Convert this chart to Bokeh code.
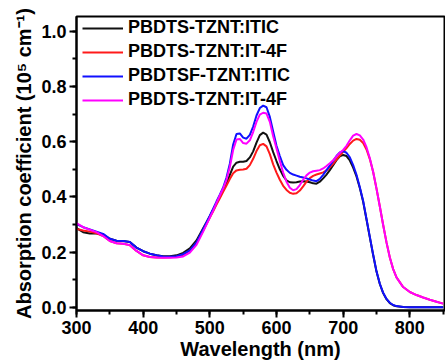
from bokeh.plotting import figure
from bokeh.models import Range1d, SingleIntervalTicker, Legend, LegendItem, CustomJSTickFormatter
from bokeh.embed import file_html
from bokeh.resources import INLINE

wavelength = [300, 310, 320, 330, 340, 350, 360, 370, 380, 390, 400, 410, 420, 430, 440, 450,
              460, 470, 480, 490, 500, 505, 510, 515, 520, 525, 530, 535, 540, 545, 550, 555,
              560, 565, 570, 575, 580, 585, 590, 595, 600, 605, 610, 615, 620, 625, 630, 635,
              640, 645, 650, 655, 660, 665, 670, 675, 680, 685, 690, 695, 700, 705, 710, 715,
              720, 725, 730, 735, 740, 745, 750, 755, 760, 765, 770, 775, 780, 790, 800, 810,
              820, 830, 840, 850]

black_itic = [0.287, 0.272, 0.267, 0.267, 0.263, 0.248, 0.241, 0.240, 0.236, 0.216, 0.203, 0.194,
              0.188, 0.185, 0.185, 0.188, 0.197, 0.213, 0.242, 0.286, 0.330, 0.353, 0.377, 0.400,
              0.424, 0.447, 0.480, 0.510, 0.524, 0.527, 0.527, 0.530, 0.543, 0.565, 0.597, 0.624,
              0.633, 0.626, 0.598, 0.562, 0.530, 0.500, 0.476, 0.460, 0.453, 0.452, 0.453, 0.456,
              0.457, 0.456, 0.453, 0.449, 0.448, 0.455, 0.467, 0.481, 0.497, 0.515, 0.533, 0.547,
              0.552, 0.548, 0.532, 0.506, 0.474, 0.432, 0.382, 0.318, 0.253, 0.189, 0.129, 0.084,
              0.051, 0.029, 0.015, 0.007, 0.003, 0.001, 0.0, 0.0, 0.0, 0.0, 0.0, 0.0]

red_it4f = [0.284, 0.278, 0.274, 0.268, 0.258, 0.240, 0.232, 0.230, 0.225, 0.204, 0.188, 0.182,
            0.180, 0.180, 0.181, 0.183, 0.190, 0.205, 0.233, 0.278, 0.325, 0.348, 0.372, 0.395,
            0.418, 0.441, 0.465, 0.486, 0.496, 0.498, 0.499, 0.502, 0.515, 0.538, 0.566, 0.587,
            0.592, 0.583, 0.555, 0.518, 0.488, 0.462, 0.440, 0.425, 0.415, 0.411, 0.413, 0.423,
            0.438, 0.455, 0.468, 0.476, 0.481, 0.485, 0.489, 0.496, 0.507, 0.520, 0.535, 0.550,
            0.563, 0.577, 0.592, 0.604, 0.610, 0.607, 0.595, 0.572, 0.537, 0.490, 0.430, 0.365,
            0.298, 0.235, 0.180, 0.138, 0.108, 0.073, 0.055, 0.044, 0.035, 0.027, 0.020, 0.013]

blue_sf_itic = [0.301, 0.290, 0.282, 0.274, 0.266, 0.248, 0.241, 0.240, 0.236, 0.216, 0.203, 0.194,
                0.188, 0.184, 0.183, 0.185, 0.192, 0.206, 0.235, 0.283, 0.332, 0.357, 0.383, 0.408,
                0.434, 0.470, 0.520, 0.590, 0.628, 0.630, 0.615, 0.611, 0.625, 0.655, 0.695, 0.722,
                0.731, 0.725, 0.690, 0.637, 0.585, 0.548, 0.515, 0.498, 0.487, 0.481, 0.477, 0.473,
                0.470, 0.467, 0.463, 0.459, 0.457, 0.465, 0.480, 0.497, 0.513, 0.530, 0.548, 0.561,
                0.566, 0.560, 0.543, 0.515, 0.480, 0.435, 0.385, 0.320, 0.255, 0.190, 0.130, 0.085,
                0.052, 0.030, 0.016, 0.008, 0.004, 0.001, 0.0, 0.0, 0.0, 0.0, 0.0, 0.0]

magenta_it4f = [0.305, 0.290, 0.281, 0.272, 0.258, 0.240, 0.232, 0.230, 0.225, 0.204, 0.188, 0.182,
                0.180, 0.179, 0.179, 0.180, 0.184, 0.198, 0.226, 0.274, 0.325, 0.350, 0.378, 0.405,
                0.431, 0.462, 0.508, 0.570, 0.608, 0.610, 0.595, 0.593, 0.605, 0.635, 0.672, 0.698,
                0.705, 0.702, 0.672, 0.620, 0.575, 0.530, 0.488, 0.455, 0.433, 0.424, 0.428, 0.443,
                0.462, 0.478, 0.488, 0.493, 0.495, 0.497, 0.503, 0.512, 0.522, 0.533, 0.547, 0.560,
                0.570, 0.585, 0.605, 0.622, 0.628, 0.623, 0.608, 0.580, 0.540, 0.490, 0.430, 0.365,
                0.298, 0.235, 0.180, 0.138, 0.108, 0.073, 0.055, 0.044, 0.035, 0.027, 0.020, 0.013]

series_labels = ["PBDTS-TZNT:ITIC", "PBDTS-TZNT:IT-4F", "PBDTSF-TZNT:ITIC", "PBDTS-TZNT:IT-4F"]
series_values = [black_itic, red_it4f, blue_sf_itic, magenta_it4f]
series_colors = ["#111111", "#ff1a1a", "#1010ff", "#ff00ff"]

FONT = "Liberation Sans"

p = figure(width=445, height=364, output_backend="svg", toolbar_location=None,
           x_range=Range1d(300, 852), y_range=Range1d(-0.012, 1.054),
           min_border_left=76, min_border_right=1, min_border_top=16, min_border_bottom=54)

items = []
for lbl, vals, col in zip(series_labels, series_values, series_colors):
    r = p.line(wavelength, vals, line_color=col, line_width=2)
    items.append(LegendItem(label=lbl, renderers=[r]))

legend = Legend(items=items, location=(6, 200), border_line_alpha=0, background_fill_alpha=0,
                label_text_font=FONT, label_text_font_style="bold", label_text_font_size="18px",
                label_text_color="black", glyph_width=41, glyph_height=20, label_standoff=5,
                spacing=3, padding=0, margin=0, label_height=20)
p.add_layout(legend)

p.grid.visible = False
p.outline_line_color = "black"
p.outline_line_width = 2
p.background_fill_color = "white"
p.border_fill_color = "white"

p.xaxis.ticker = SingleIntervalTicker(interval=100, num_minor_ticks=2)
p.yaxis.ticker = SingleIntervalTicker(interval=0.2, num_minor_ticks=2)
p.yaxis.formatter = CustomJSTickFormatter(code="return tick.toFixed(1);")

for ax in (p.xaxis[0], p.yaxis[0]):
    ax.axis_line_width = 2
    ax.axis_line_color = "black"
    ax.major_tick_line_width = 2
    ax.minor_tick_line_width = 2
    ax.major_tick_in = 0
    ax.minor_tick_in = 0
    ax.major_tick_out = 7
    ax.minor_tick_out = 4
    ax.major_label_text_font = FONT
    ax.major_label_text_font_style = "bold"
    ax.major_label_text_font_size = "18px"
    ax.major_label_text_color = "black"
    ax.axis_label_text_font = FONT
    ax.axis_label_text_font_style = "bold"
    ax.axis_label_text_font_size = "20px"
    ax.axis_label_text_color = "black"

p.xaxis.axis_label = "Wavelength (nm)"
p.yaxis.axis_label = "Absorption coefficient (10\u2075 cm\u207b\u00b9)"
p.xaxis.major_label_standoff = 3
p.yaxis.major_label_standoff = 3
p.xaxis.axis_label_standoff = 1
p.yaxis.axis_label_standoff = 3

open("out.html", "w").write(file_html(p, INLINE))
